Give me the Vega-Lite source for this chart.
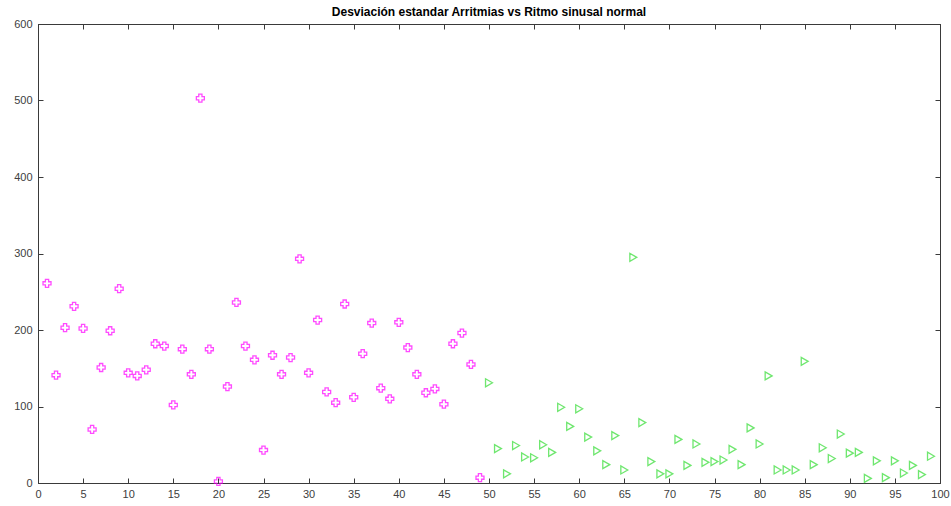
{
  "$schema": "https://vega.github.io/schema/vega-lite/v6.json",
  "autosize": "none",
  "width": 902,
  "height": 459,
  "padding": {"left": 38, "top": 24, "right": 11, "bottom": 23},
  "background": "white",
  "title": {
    "text": "Desviación estandar Arritmias vs Ritmo sinusal normal",
    "fontSize": 12,
    "fontWeight": "bold",
    "color": "#000000",
    "offset": -1,
    "anchor": "middle"
  },
  "config": {
    "view": {"stroke": "#3a3a3a"},
    "axis": {
      "grid": false,
      "domainColor": "#3a3a3a",
      "tickColor": "#3a3a3a",
      "tickSize": -5,
      "labelFlush": false,
      "labelFontSize": 11,
      "labelColor": "#404040",
      "title": null
    }
  },
  "data": {
    "values": [
      {"idx": 1, "sd": 261, "grupo": "Arritmias"},
      {"idx": 2, "sd": 141, "grupo": "Arritmias"},
      {"idx": 3, "sd": 203, "grupo": "Arritmias"},
      {"idx": 4, "sd": 231, "grupo": "Arritmias"},
      {"idx": 5, "sd": 202, "grupo": "Arritmias"},
      {"idx": 6, "sd": 70, "grupo": "Arritmias"},
      {"idx": 7, "sd": 151, "grupo": "Arritmias"},
      {"idx": 8, "sd": 199, "grupo": "Arritmias"},
      {"idx": 9, "sd": 254, "grupo": "Arritmias"},
      {"idx": 10, "sd": 144, "grupo": "Arritmias"},
      {"idx": 11, "sd": 140, "grupo": "Arritmias"},
      {"idx": 12, "sd": 148, "grupo": "Arritmias"},
      {"idx": 13, "sd": 182, "grupo": "Arritmias"},
      {"idx": 14, "sd": 179, "grupo": "Arritmias"},
      {"idx": 15, "sd": 102, "grupo": "Arritmias"},
      {"idx": 16, "sd": 175, "grupo": "Arritmias"},
      {"idx": 17, "sd": 142, "grupo": "Arritmias"},
      {"idx": 18, "sd": 503, "grupo": "Arritmias"},
      {"idx": 19, "sd": 175, "grupo": "Arritmias"},
      {"idx": 20, "sd": 2, "grupo": "Arritmias"},
      {"idx": 21, "sd": 126, "grupo": "Arritmias"},
      {"idx": 22, "sd": 236, "grupo": "Arritmias"},
      {"idx": 23, "sd": 179, "grupo": "Arritmias"},
      {"idx": 24, "sd": 161, "grupo": "Arritmias"},
      {"idx": 25, "sd": 43, "grupo": "Arritmias"},
      {"idx": 26, "sd": 167, "grupo": "Arritmias"},
      {"idx": 27, "sd": 142, "grupo": "Arritmias"},
      {"idx": 28, "sd": 164, "grupo": "Arritmias"},
      {"idx": 29, "sd": 293, "grupo": "Arritmias"},
      {"idx": 30, "sd": 144, "grupo": "Arritmias"},
      {"idx": 31, "sd": 213, "grupo": "Arritmias"},
      {"idx": 32, "sd": 119, "grupo": "Arritmias"},
      {"idx": 33, "sd": 105, "grupo": "Arritmias"},
      {"idx": 34, "sd": 234, "grupo": "Arritmias"},
      {"idx": 35, "sd": 112, "grupo": "Arritmias"},
      {"idx": 36, "sd": 169, "grupo": "Arritmias"},
      {"idx": 37, "sd": 209, "grupo": "Arritmias"},
      {"idx": 38, "sd": 124, "grupo": "Arritmias"},
      {"idx": 39, "sd": 110, "grupo": "Arritmias"},
      {"idx": 40, "sd": 210, "grupo": "Arritmias"},
      {"idx": 41, "sd": 177, "grupo": "Arritmias"},
      {"idx": 42, "sd": 142, "grupo": "Arritmias"},
      {"idx": 43, "sd": 118, "grupo": "Arritmias"},
      {"idx": 44, "sd": 123, "grupo": "Arritmias"},
      {"idx": 45, "sd": 103, "grupo": "Arritmias"},
      {"idx": 46, "sd": 182, "grupo": "Arritmias"},
      {"idx": 47, "sd": 196, "grupo": "Arritmias"},
      {"idx": 48, "sd": 155, "grupo": "Arritmias"},
      {"idx": 49, "sd": 7, "grupo": "Arritmias"},
      {"idx": 50, "sd": 131, "grupo": "Normal"},
      {"idx": 51, "sd": 45, "grupo": "Normal"},
      {"idx": 52, "sd": 12, "grupo": "Normal"},
      {"idx": 53, "sd": 49, "grupo": "Normal"},
      {"idx": 54, "sd": 34, "grupo": "Normal"},
      {"idx": 55, "sd": 33, "grupo": "Normal"},
      {"idx": 56, "sd": 50, "grupo": "Normal"},
      {"idx": 57, "sd": 40, "grupo": "Normal"},
      {"idx": 58, "sd": 99, "grupo": "Normal"},
      {"idx": 59, "sd": 74, "grupo": "Normal"},
      {"idx": 60, "sd": 97, "grupo": "Normal"},
      {"idx": 61, "sd": 60, "grupo": "Normal"},
      {"idx": 62, "sd": 42, "grupo": "Normal"},
      {"idx": 63, "sd": 24, "grupo": "Normal"},
      {"idx": 64, "sd": 62, "grupo": "Normal"},
      {"idx": 65, "sd": 17, "grupo": "Normal"},
      {"idx": 66, "sd": 295, "grupo": "Normal"},
      {"idx": 67, "sd": 79, "grupo": "Normal"},
      {"idx": 68, "sd": 28, "grupo": "Normal"},
      {"idx": 69, "sd": 12, "grupo": "Normal"},
      {"idx": 70, "sd": 12, "grupo": "Normal"},
      {"idx": 71, "sd": 57, "grupo": "Normal"},
      {"idx": 72, "sd": 23, "grupo": "Normal"},
      {"idx": 73, "sd": 51, "grupo": "Normal"},
      {"idx": 74, "sd": 27, "grupo": "Normal"},
      {"idx": 75, "sd": 28, "grupo": "Normal"},
      {"idx": 76, "sd": 30, "grupo": "Normal"},
      {"idx": 77, "sd": 44, "grupo": "Normal"},
      {"idx": 78, "sd": 24, "grupo": "Normal"},
      {"idx": 79, "sd": 72, "grupo": "Normal"},
      {"idx": 80, "sd": 51, "grupo": "Normal"},
      {"idx": 81, "sd": 140, "grupo": "Normal"},
      {"idx": 82, "sd": 17, "grupo": "Normal"},
      {"idx": 83, "sd": 17, "grupo": "Normal"},
      {"idx": 84, "sd": 17, "grupo": "Normal"},
      {"idx": 85, "sd": 159, "grupo": "Normal"},
      {"idx": 86, "sd": 24, "grupo": "Normal"},
      {"idx": 87, "sd": 46, "grupo": "Normal"},
      {"idx": 88, "sd": 32, "grupo": "Normal"},
      {"idx": 89, "sd": 64, "grupo": "Normal"},
      {"idx": 90, "sd": 39, "grupo": "Normal"},
      {"idx": 91, "sd": 40, "grupo": "Normal"},
      {"idx": 92, "sd": 6, "grupo": "Normal"},
      {"idx": 93, "sd": 29, "grupo": "Normal"},
      {"idx": 94, "sd": 7, "grupo": "Normal"},
      {"idx": 95, "sd": 29, "grupo": "Normal"},
      {"idx": 96, "sd": 13, "grupo": "Normal"},
      {"idx": 97, "sd": 23, "grupo": "Normal"},
      {"idx": 98, "sd": 11, "grupo": "Normal"},
      {"idx": 99, "sd": 35, "grupo": "Normal"}
    ]
  },
  "layer": [
    {
      "mark": {"type": "point", "filled": false, "strokeWidth": 1.3, "size": 64},
      "encoding": {
        "x": {
          "field": "idx", "type": "quantitative",
          "scale": {"domain": [0, 100], "nice": false},
          "axis": {"orient": "bottom", "labelPadding": 10}
        },
        "y": {
          "field": "sd", "type": "quantitative",
          "scale": {"domain": [0, 600], "nice": false},
          "axis": {"orient": "left", "tickCount": 6, "labelPadding": 11}
        },
        "color": {
          "field": "grupo", "type": "nominal",
          "scale": {"domain": ["Arritmias", "Normal"], "range": ["#ff00ff", "#33dd33"]},
          "legend": null
        },
        "shape": {
          "field": "grupo", "type": "nominal",
          "scale": {"domain": ["Arritmias", "Normal"], "range": ["cross", "triangle-right"]},
          "legend": null
        }
      }
    },
    {
      "mark": {"type": "point", "opacity": 0},
      "encoding": {
        "x": {
          "field": "idx", "type": "quantitative",
          "scale": {"domain": [0, 100], "nice": false},
          "axis": {"orient": "top", "labels": false}
        },
        "y": {
          "field": "sd", "type": "quantitative",
          "scale": {"domain": [0, 600], "nice": false},
          "axis": {"orient": "right", "tickCount": 6, "labels": false}
        }
      }
    }
  ],
  "resolve": {"axis": {"x": "independent", "y": "independent"}}
}
